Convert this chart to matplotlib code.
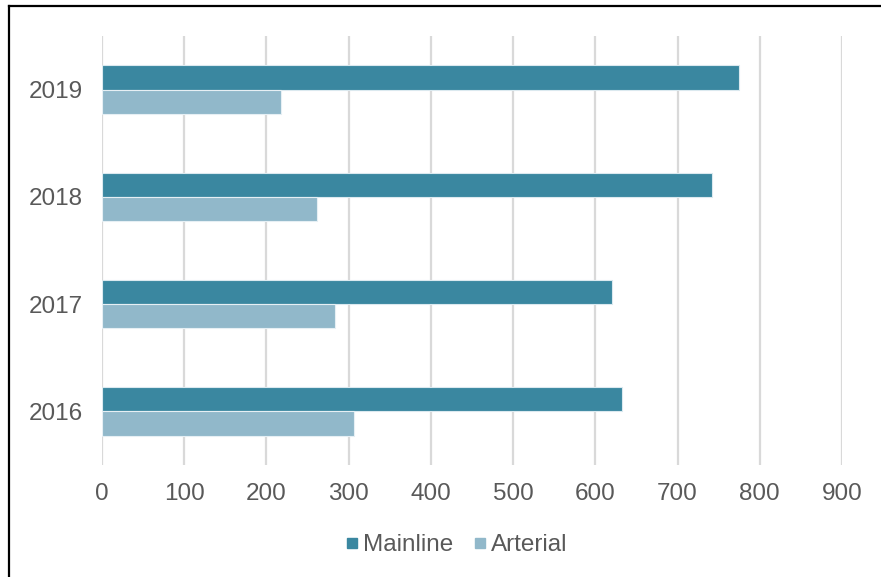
import matplotlib
matplotlib.use("Agg")
import matplotlib.pyplot as plt
from matplotlib.lines import Line2D
import numpy as np

plt.rcParams['font.family'] = ['Liberation Sans', 'DejaVu Sans']

years = ["2016", "2017", "2018", "2019"]
mainline = [632, 620, 742, 775]
arterial = [307, 283, 261, 218]
series_names = ["Mainline", "Arterial"]
colors = ["#3a87a0", "#91b8ca"]
x_ticks = [0, 100, 200, 300, 400, 500, 600, 700, 800, 900]

W, H = 881, 577
fig = plt.figure(figsize=(W / 100, H / 100), dpi=100)
ax = fig.add_axes([102 / W, 1 - 465 / H, 740 / W, 429 / H])

y = np.arange(len(years))
bh = 0.225
ax.barh(y + bh / 2, mainline, height=bh, color=colors[0],
        edgecolor="#dbe9ef", linewidth=0.8, zorder=3)
ax.barh(y - bh / 2, arterial, height=bh, color=colors[1],
        edgecolor="#e6eff4", linewidth=0.8, zorder=3)

ax.set_xlim(0, 900)
ax.set_ylim(-0.5, 3.5)
ax.set_xticks(x_ticks)
ax.set_xticklabels([str(v) for v in x_ticks])
ax.set_yticks(y)
ax.set_yticklabels(years)
ax.grid(axis="x", color="#d9d9d9", linewidth=1.6, zorder=0)
ax.set_axisbelow(True)
for s in ax.spines.values():
    s.set_visible(False)
ax.tick_params(axis="both", length=0, labelsize=17.5, labelcolor="#595959")
ax.tick_params(axis="x", pad=13)
ax.tick_params(axis="y", pad=14)

handles = [Line2D([], [], marker="s", linestyle="none", markersize=7.5,
                  markerfacecolor=c, markeredgecolor=c) for c in colors]
fig.legend(handles, series_names, loc="center", bbox_to_anchor=(455 / W, 1 - 545 / H),
           ncol=2, frameon=False, fontsize=17.5, labelcolor="#595959",
           handletextpad=0.05, columnspacing=0.73, handlelength=0.8)

# outer frame lines (top and left)
fig.add_artist(Line2D([9 / W, 1], [1 - 6 / H, 1 - 6 / H], color="black", linewidth=1.6,
                      transform=fig.transFigure))
fig.add_artist(Line2D([9 / W, 9 / W], [0, 1 - 6 / H], color="black", linewidth=1.6,
                      transform=fig.transFigure))

fig.savefig("out.png", dpi=100)
